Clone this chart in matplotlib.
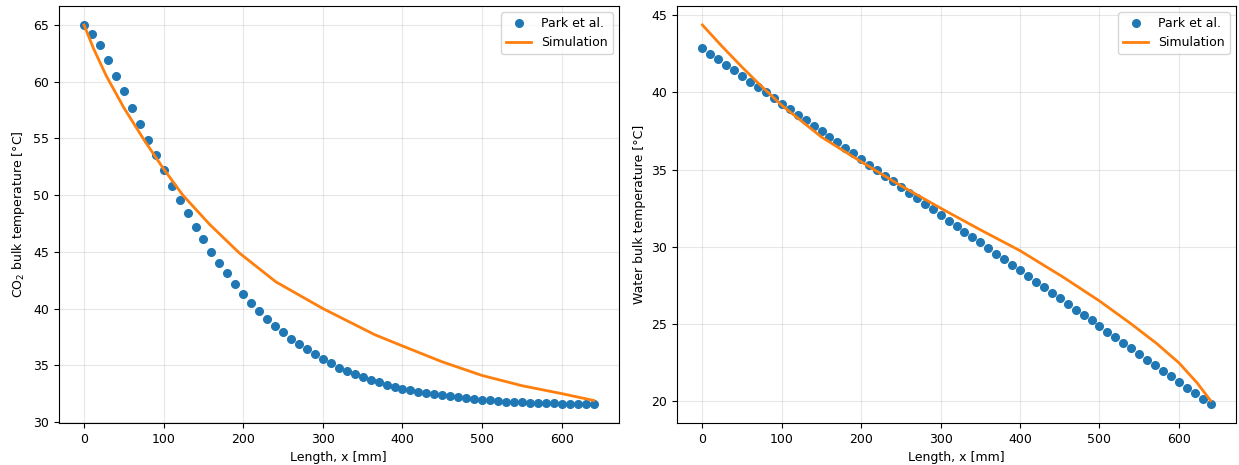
import matplotlib
matplotlib.use("Agg")
from matplotlib import pyplot as plt

plt.rcParams['font.size'] = 9

# posiciones de medida (mm)
x_park = list(range(0, 650, 10))

# CO2 - Park et al.
co2_park = [65.0, 64.2, 63.2, 61.9, 60.5, 59.2, 57.7, 56.3, 54.9, 53.5,
            52.2, 50.8, 49.6, 48.4, 47.2, 46.1, 45.0, 44.0, 43.1, 42.2,
            41.3, 40.5, 39.8, 39.1, 38.5, 37.9, 37.3, 36.9, 36.4, 36.0,
            35.55, 35.17, 34.8, 34.5, 34.25, 33.96, 33.72, 33.49, 33.28, 33.1,
            32.93, 32.78, 32.64, 32.52, 32.43, 32.34, 32.25, 32.16, 32.08, 31.99,
            31.96, 31.9, 31.84, 31.78, 31.75, 31.73, 31.7, 31.67, 31.64, 31.64,
            31.62, 31.61, 31.6, 31.6, 31.58]

# CO2 - simulacion
x_sim_co2 = [0, 12, 28, 50, 75, 100, 124, 158, 195, 241, 300, 365,
             400, 450, 500, 550, 600, 640]
co2_sim = [65.0, 62.9, 60.5, 57.7, 54.9, 52.3, 50.0, 47.4, 44.9, 42.35,
           40.0, 37.7, 36.7, 35.3, 34.1, 33.2, 32.5, 31.9]

# Agua - Park et al.
water_park = [42.88, 42.5, 42.15, 41.78, 41.42, 41.05, 40.69, 40.34, 40.0, 39.63,
              39.26, 38.92, 38.55, 38.2, 37.84, 37.5, 37.13, 36.77, 36.42, 36.06,
              35.71, 35.32, 34.96, 34.61, 34.25, 33.88, 33.51, 33.17, 32.8, 32.44,
              32.07, 31.7, 31.36, 30.99, 30.65, 30.28, 29.92, 29.55, 29.18, 28.84,
              28.47, 28.11, 27.74, 27.37, 27.03, 26.66, 26.3, 25.93, 25.59, 25.24,
              24.87, 24.5, 24.14, 23.79, 23.43, 23.06, 22.7, 22.35, 21.98, 21.62,
              21.25, 20.89, 20.54, 20.17, 19.83]

# Agua - simulacion
x_sim_water = [0, 25, 50, 70, 100, 150, 200, 250, 300, 350, 400, 454, 500,
               539, 572, 600, 623, 640]
water_sim = [44.35, 42.95, 41.62, 40.6, 39.15, 37.1, 35.5, 33.95, 32.5, 31.1,
             29.75, 28.05, 26.5, 25.05, 23.75, 22.5, 21.2, 20.05]

fig = plt.figure(figsize=(12.39, 4.65), dpi=100)
ax1 = fig.add_axes([0.0473, 0.0903, 0.4523, 0.8968])
ax2 = fig.add_axes([0.5464, 0.0903, 0.4512, 0.8968])

ax1.plot(x_park, co2_park, 'o', color='C0', markersize=5.5, label='Park et al.')
ax1.plot(x_sim_co2, co2_sim, '-', color='C1', linewidth=2, label='Simulation')
ax1.set_xlabel('Length, x [mm]')
ax1.set_ylabel('CO$_2$ bulk temperature [°C]')
ax1.grid(alpha=0.3)
ax1.legend(loc='upper right')

ax2.plot(x_park, water_park, 'o', color='C0', markersize=5.5, label='Park et al.')
ax2.plot(x_sim_water, water_sim, '-', color='C1', linewidth=2, label='Simulation')
ax2.set_xlabel('Length, x [mm]')
ax2.set_ylabel('Water bulk temperature [°C]')
ax2.grid(alpha=0.3)
ax2.legend(loc='upper right')

fig.savefig('out.png', dpi=100)
